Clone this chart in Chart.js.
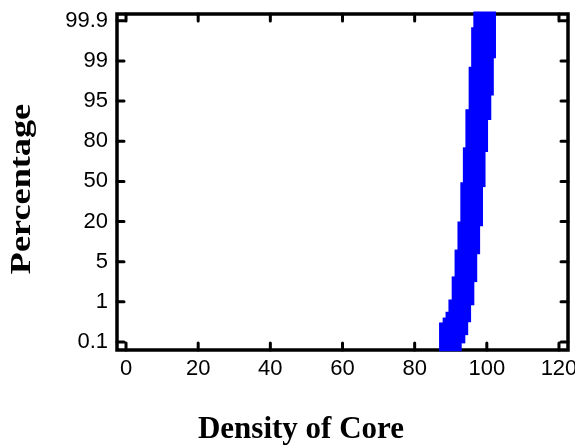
<!DOCTYPE html>
<html>
<head>
<meta charset="utf-8">
<script src="https://cdn.jsdelivr.net/npm/chart.js@4.4.0/dist/chart.umd.min.js"></script>
<style>
  html, body { margin: 0; padding: 0; background: #fff; }
  canvas { display: block; }
</style>
</head>
<body>
<canvas id="probChart" width="575" height="448"></canvas>
<script>
// Normal probability plot - Density of Core
// each block is a run of cores with the same density, spanning a range of cumulative %
const density = [99.4, 98.8, 98.1, 97.2, 96.5, 95.8, 95.0, 94.2, 93.4, 92.5, 91.7, 90.9, 89.9];
const pctHigh = [99.94, 99.75, 98.4, 91.8, 75.2, 49.1, 19.9, 9.4, 3.5, 1.2, 0.77, 0.64, 0.53];
const pctLow  = [99.07, 95.6, 88.1, 72.2, 46.0, 18.4, 7.9, 3.0, 0.93, 0.55, 0.26, 0.094, 0.06];

// tick labels
const probTicks = [0.1, 1, 5, 20, 50, 80, 95, 99, 99.9];
const xTicks = [0, 20, 40, 60, 80, 100, 120];

// probability paper: the labelled percentages sit at equal steps
function probPos(p) {
  const n = probTicks.length;
  if (p <= probTicks[0]) return -Math.log10(probTicks[0] / p);
  if (p >= probTicks[n - 1]) return (n - 1) + Math.log10((100 - probTicks[n - 1]) / (100 - p));
  for (let i = 0; i < n - 1; i++) {
    if (p <= probTicks[i + 1]) {
      return i + (p - probTicks[i]) / (probTicks[i + 1] - probTicks[i]);
    }
  }
}

const blocks = density.map((d, i) => ({ x: d, y: [probPos(pctLow[i]), probPos(pctHigh[i])] }));

// Frame with inward ticks, and the axis titles
const framePlugin = {
  id: 'frame',
  beforeDatasetsDraw(chart) {
    const { ctx, chartArea: a, scales: { x, y } } = chart;
    ctx.save();
    ctx.strokeStyle = '#000';
    ctx.lineCap = 'round';
    ctx.lineWidth = 3;
    ctx.beginPath();
    xTicks.forEach(v => {
      const px = x.getPixelForValue(v);
      ctx.moveTo(px, a.bottom); ctx.lineTo(px, a.bottom - 7);
      ctx.moveTo(px, a.top); ctx.lineTo(px, a.top + 7);
    });
    probTicks.forEach((p, i) => {
      const py = y.getPixelForValue(i);
      ctx.moveTo(a.left, py); ctx.lineTo(a.left + 7, py);
      ctx.moveTo(a.right, py); ctx.lineTo(a.right - 7, py);
    });
    ctx.stroke();
    ctx.lineCap = 'butt';
    ctx.lineWidth = 3.5;
    ctx.strokeRect(a.left, a.top, a.right - a.left, a.bottom - a.top);
    ctx.restore();
  },
  afterDraw(chart) {
    const { ctx } = chart;
    ctx.save();
    ctx.fillStyle = '#000';
    ctx.textAlign = 'center';
    ctx.textBaseline = 'alphabetic';
    ctx.font = 'bold 31px "Liberation Serif", "Times New Roman", serif';
    ctx.fillText('Density of Core', 301, 438);
    ctx.translate(30, 189);
    ctx.rotate(-Math.PI / 2);
    ctx.scale(1.25, 1);
    ctx.font = 'bold 29px "Liberation Serif", "Times New Roman", serif';
    ctx.fillText('Percentage', 0, 0);
    ctx.restore();
  }
};

const tickFont = { family: "'Liberation Sans Narrow', 'Arial Narrow', 'Liberation Sans', sans-serif", size: 22 };

const ctx = document.getElementById('probChart').getContext('2d');
const probChart = new Chart(ctx, {
  type: 'bar',
  data: {
    datasets: [{
      label: 'Density of Core',
      data: blocks,
      backgroundColor: '#0000ff',
      borderWidth: 0,
      borderRadius: 0,
      borderSkipped: false,
      barThickness: 22,
      clip: 3
    }]
  },
  options: {
    responsive: false,
    animation: false,
    layout: { padding: { left: 0, top: 14, right: 7, bottom: 0 } },
    plugins: {
      legend: { display: false },
      tooltip: { enabled: false }
    },
    scales: {
      x: {
        type: 'linear',
        offset: false,
        min: -2.5,
        max: 122.5,
        grid: { display: false, drawTicks: false, offset: false },
        border: { display: false },
        afterBuildTicks: axis => { axis.ticks = xTicks.map(v => ({ value: v })); },
        afterFit: axis => { axis.height = 98; axis.paddingLeft = 0; axis.paddingRight = 0; },
        ticks: { color: '#000', font: tickFont, padding: 6, autoSkip: false, maxRotation: 0 }
      },
      y: {
        type: 'linear',
        min: -0.2,
        max: 8.17,
        grid: { display: false, drawTicks: false },
        border: { display: false },
        afterBuildTicks: axis => { axis.ticks = probTicks.map((p, i) => ({ value: i })); },
        afterFit: axis => { axis.width = 117; axis.paddingTop = 0; axis.paddingBottom = 0; },
        ticks: {
          color: '#000', font: tickFont, padding: 9, autoSkip: false,
          callback: v => String(probTicks[v])
        }
      }
    }
  },
  plugins: [framePlugin]
});
</script>
</body>
</html>
